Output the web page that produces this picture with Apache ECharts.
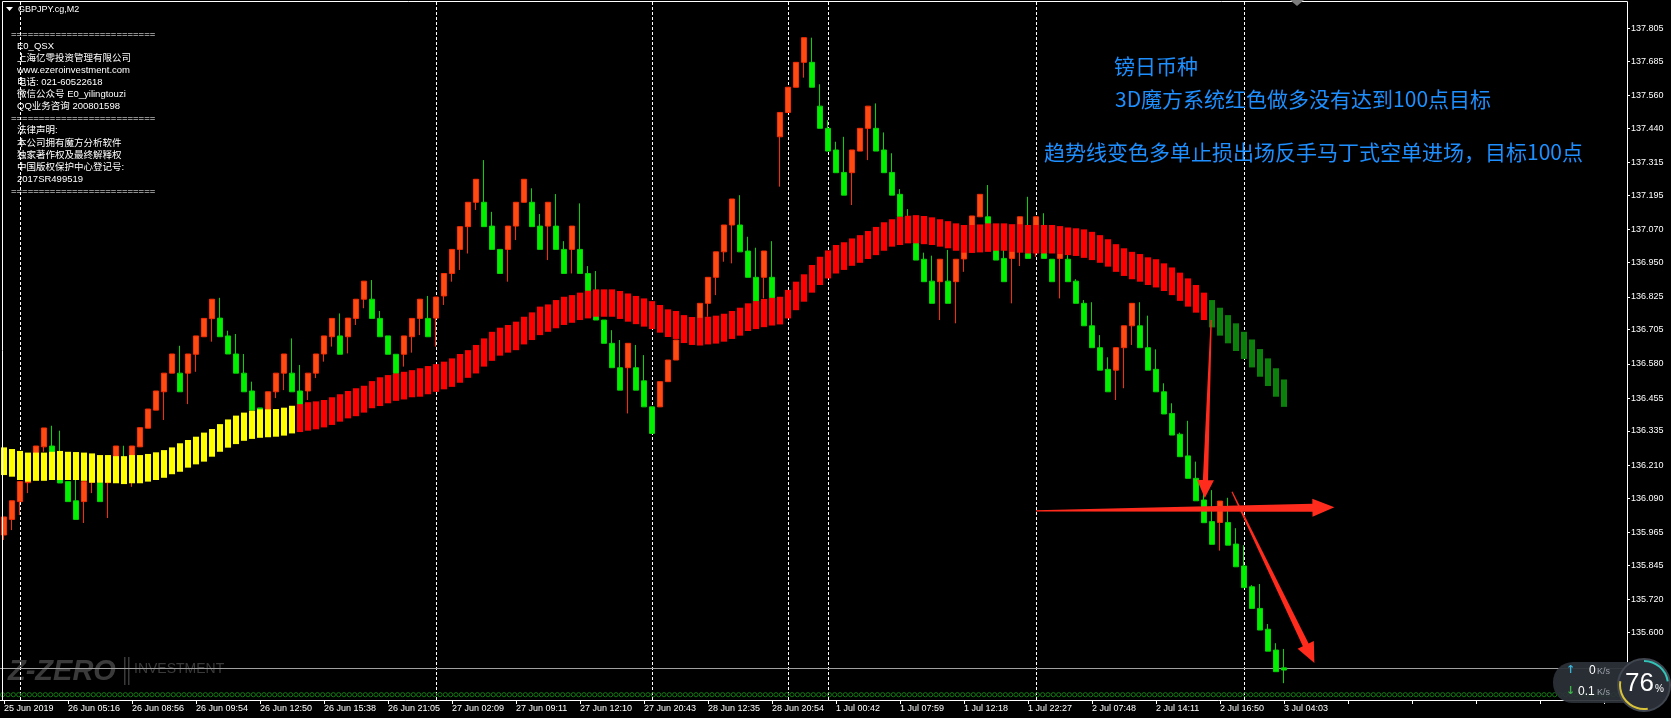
<!DOCTYPE html>
<html><head><meta charset="utf-8">
<script src="https://cdn.jsdelivr.net/npm/echarts@6/dist/echarts.min.js"></script>
<style>html,body{margin:0;padding:0;background:#000;overflow:hidden}#c{width:1671px;height:718px}</style>
</head><body><div id="c"></div>
<script>
// ---------------- DATA ----------------
const timeLabels = ['25 Jun 2019','26 Jun 05:16','26 Jun 08:56','26 Jun 09:54','26 Jun 12:50','26 Jun 15:38','26 Jun 21:05','27 Jun 02:09','27 Jun 09:11','27 Jun 12:10','27 Jun 20:43','28 Jun 12:35','28 Jun 20:54','1 Jul 00:42','1 Jul 07:59','1 Jul 12:18','1 Jul 22:27','2 Jul 07:48','2 Jul 14:11','2 Jul 16:50','3 Jul 04:03'];
const priceTicks = ['137.805','137.685','137.560','137.440','137.315','137.195','137.070','136.950','136.825','136.705','136.580','136.455','136.335','136.210','136.090','135.965','135.845','135.720','135.600'];

const opens = [135.955,136.012,136.077,136.146,136.214,136.277,136.280,136.211,136.150,136.080,136.077,136.148,136.146,136.146,136.218,136.218,136.218,136.277,136.345,136.411,
136.478,136.546,136.546,136.546,136.615,136.679,136.745,136.747,136.682,136.616,136.546,136.481,136.419,136.411,136.478,136.546,136.546,136.481,136.481,136.546,
136.616,136.679,136.682,136.679,136.746,136.816,136.816,136.746,136.682,136.615,136.615,136.679,136.746,136.746,136.747,136.828,136.910,136.998,137.081,137.170,
137.170,137.083,136.998,136.998,137.083,137.170,137.170,137.083,137.083,137.083,136.998,136.998,136.998,136.910,136.809,136.740,136.655,136.566,136.566,136.566,
136.518,136.423,136.423,136.515,136.594,136.667,136.733,136.733,136.801,136.896,136.989,137.087,137.087,136.992,136.896,136.896,136.896,137.409,137.498,137.590,
137.681,137.681,137.521,137.440,137.361,137.279,137.278,137.357,137.440,137.440,137.361,137.279,137.199,137.117,137.036,136.962,136.882,136.880,136.882,136.880,
136.963,137.043,137.117,137.117,137.047,136.965,136.965,137.034,137.034,137.034,137.034,136.962,136.965,136.962,136.882,136.801,136.719,136.639,136.560,136.557,
136.639,136.719,136.719,136.639,136.560,136.478,136.399,136.323,136.244,136.162,136.083,136.004,136.001,136.001,135.922,135.842,135.766,135.687,135.611,135.535,
135.470];
const closes = [136.021,136.080,136.150,136.218,136.280,136.346,136.211,136.145,136.077,136.012,136.150,136.218,136.077,136.218,136.280,136.149,136.280,136.347,136.415,136.481,
136.546,136.616,136.478,136.616,136.682,136.746,136.816,136.679,136.616,136.546,136.478,136.411,136.346,136.478,136.546,136.616,136.478,136.411,136.546,136.616,
136.682,136.746,136.615,136.747,136.816,136.882,136.746,136.679,136.615,136.545,136.682,136.746,136.816,136.679,136.824,136.910,136.998,137.081,137.170,137.254,
137.081,136.998,136.910,137.083,137.170,137.254,137.081,136.998,137.170,136.998,136.910,137.083,136.910,136.842,136.740,136.655,136.566,136.484,136.655,136.484,
136.423,136.326,136.515,136.594,136.667,136.733,136.664,136.801,136.896,136.989,137.087,137.182,136.989,136.896,136.809,136.992,136.819,137.498,137.590,137.681,
137.771,137.590,137.440,137.357,137.278,137.196,137.361,137.440,137.521,137.357,137.278,137.196,137.117,137.036,136.959,136.880,136.801,136.962,136.801,136.962,
137.043,137.120,137.199,137.049,136.959,136.880,137.034,137.117,136.965,137.117,136.965,136.880,137.034,136.880,136.801,136.719,136.639,136.557,136.478,136.639,
136.719,136.801,136.639,136.557,136.478,136.397,136.320,136.241,136.162,136.080,136.000,135.921,136.079,135.918,135.839,135.763,135.687,135.608,135.531,135.456,
135.462];
const lows = [135.937,135.973,136.028,136.108,136.214,136.259,136.211,136.145,136.077,136.012,135.999,136.108,136.077,136.017,136.218,136.149,136.131,136.277,136.345,136.411,
136.375,136.546,136.478,136.433,136.551,136.679,136.661,136.679,136.616,136.546,136.478,136.411,136.346,136.382,136.455,136.484,136.478,136.411,136.448,136.528,
136.588,136.643,136.615,136.618,136.722,136.783,136.746,136.679,136.615,136.545,136.570,136.621,136.685,136.679,136.643,136.795,136.880,136.923,136.983,137.142,
137.081,136.998,136.910,136.880,137.032,137.170,137.081,136.998,136.959,136.998,136.910,136.910,136.910,136.842,136.740,136.655,136.566,136.484,136.399,136.484,
136.423,136.326,136.423,136.515,136.594,136.667,136.664,136.733,136.752,136.831,136.953,136.947,136.989,136.896,136.809,136.819,136.819,137.227,137.498,137.590,
137.625,137.590,137.440,137.357,137.278,137.196,137.160,137.357,137.324,137.357,137.278,137.196,137.117,137.036,136.959,136.880,136.801,136.740,136.801,136.728,
136.916,137.043,137.117,137.049,136.959,136.880,136.801,136.937,136.965,136.971,136.965,136.880,136.819,136.880,136.801,136.719,136.639,136.557,136.478,136.448,
136.491,136.649,136.639,136.557,136.478,136.397,136.320,136.241,136.162,136.080,136.000,135.921,135.898,135.918,135.839,135.763,135.687,135.608,135.531,135.456,
135.414];
const highs = [136.021,136.080,136.150,136.218,136.280,136.346,136.354,136.336,136.150,136.156,136.150,136.218,136.146,136.218,136.280,136.281,136.280,136.347,136.415,136.481,
136.546,136.616,136.646,136.616,136.682,136.746,136.816,136.821,136.701,136.689,136.616,136.515,136.419,136.478,136.546,136.616,136.673,136.576,136.546,136.616,
136.682,136.746,136.764,136.747,136.816,136.882,136.886,136.773,136.682,136.615,136.682,136.746,136.816,136.828,136.824,136.910,136.998,137.081,137.170,137.254,
137.324,137.135,136.998,137.083,137.170,137.254,137.221,137.127,137.170,137.200,137.028,137.083,137.166,136.937,136.919,136.740,136.703,136.667,136.655,136.649,
136.612,136.423,136.515,136.594,136.667,136.733,136.733,136.801,136.896,136.989,137.087,137.182,137.196,137.044,137.004,136.992,137.028,137.498,137.590,137.681,
137.771,137.771,137.601,137.470,137.391,137.409,137.361,137.440,137.521,137.531,137.425,137.349,137.218,137.145,137.036,136.986,136.975,136.962,136.996,136.962,
137.043,137.120,137.199,137.233,137.047,137.014,137.034,137.117,137.190,137.117,137.130,136.962,137.034,136.977,136.889,136.813,136.805,136.685,136.604,136.639,
136.719,136.801,136.805,136.756,136.633,136.509,136.436,136.329,136.372,136.223,136.119,136.119,136.079,136.091,135.980,135.918,135.772,135.776,135.630,135.560,
135.539];

// trend ribbon (two moving-average lines drawn as bars)
const ribbonTop = [136.275,136.269,136.262,136.256,136.256,136.256,136.259,136.262,136.259,136.258,136.256,136.253,136.247,136.247,136.243,136.243,136.247,136.247,136.251,136.257,
136.265,136.275,136.290,136.302,136.314,136.329,136.342,136.360,136.377,136.391,136.402,136.409,136.414,136.414,136.415,136.420,136.427,136.433,136.440,136.443,
136.448,136.458,136.469,136.481,136.491,136.500,136.517,136.531,136.539,136.545,136.551,136.557,136.564,136.572,136.579,136.588,136.600,136.616,136.630,136.649,
136.673,136.697,136.712,136.722,136.734,136.752,136.768,136.789,136.797,136.813,136.825,136.831,136.840,136.847,136.852,136.852,136.852,136.846,136.837,136.828,
136.819,136.809,136.795,136.779,136.773,136.758,136.751,136.748,136.752,136.756,136.763,136.773,136.785,136.801,136.809,136.817,136.821,136.825,136.850,136.880,
136.907,136.941,136.971,136.994,137.014,137.024,137.038,137.050,137.065,137.080,137.097,137.108,137.117,137.121,137.123,137.120,137.115,137.108,137.101,137.093,
137.087,137.087,137.089,137.093,137.093,137.093,137.090,137.090,137.087,137.087,137.087,137.087,137.083,137.078,137.075,137.071,137.062,137.050,137.035,137.017,
137.002,136.989,136.981,136.969,136.962,136.947,136.932,136.913,136.892,136.868,136.840,136.813,136.785,136.758,136.728,136.697,136.669,136.634,136.600,136.564,
136.523];
const ribbonBottom = [136.174,136.168,136.156,136.150,136.153,136.153,136.156,136.156,136.156,136.156,136.153,136.146,136.146,136.146,136.144,136.141,136.144,136.144,136.150,136.156,
136.164,136.177,136.186,136.201,136.213,136.223,136.241,136.259,136.274,136.287,136.299,136.306,136.310,136.312,136.314,136.318,136.326,136.331,136.336,136.341,
136.348,136.357,136.369,136.381,136.389,136.402,136.418,136.426,136.436,136.445,136.450,136.458,136.460,136.469,136.478,136.487,136.496,136.511,136.529,136.545,
136.570,136.591,136.610,136.621,136.630,136.651,136.667,136.685,136.697,136.710,136.722,136.730,136.740,136.746,136.752,136.752,136.752,136.744,136.734,136.725,
136.716,136.707,136.694,136.678,136.671,136.656,136.649,136.647,136.651,136.654,136.661,136.671,136.683,136.700,136.707,136.714,136.720,136.724,136.746,136.776,
136.807,136.840,136.868,136.892,136.910,136.923,136.938,136.949,136.963,136.977,136.993,137.008,137.014,137.020,137.020,137.017,137.014,137.008,137.002,136.993,
136.986,136.985,136.987,136.989,136.993,136.993,136.989,136.986,136.983,136.983,136.983,136.983,136.981,136.977,136.974,136.967,136.959,136.949,136.935,136.916,
136.901,136.889,136.880,136.868,136.859,136.846,136.831,136.810,136.789,136.767,136.740,136.713,136.683,136.655,136.627,136.598,136.567,136.533,136.499,136.460,
136.423];
// number of ribbon bars in each state: flat (yellow), bullish (red), bearish (green)
const ribbonStateCounts = [37, 114, 10];

const separatorBars = [2, 54, 81, 98, 103, 129, 155];
const bidPrice = 135.473;
const bottomDotLevel = 135.372;

// hand-drawn arrows: [barIndex, price] of tail and tip
const arrowTails = [[150.9, 136.740], [129.0, 136.043], [153.5, 136.113]];
const arrowTips  = [[150.1, 136.090], [166.3, 136.056], [163.8, 135.488]];

const infoLines = ['', 'E0_QSX', '上海亿零投资管理有限公司', 'www.ezeroinvestment.com', '电话: 021-60522618', '微信公众号 E0_yilingtouzi', 'QQ业务咨询 200801598', '', '法律声明:', '本公司拥有魔方分析软件', '独家著作权及最终解释权', '中国版权保护中心登记号:', '2017SR499519', ''];
const noteLines = ['镑日币种', '3D魔方系统红色做多没有达到100点目标', '趋势线变色多单止损出场反手马丁式空单进场，目标100点'];

// ---------------- BUILD ----------------
const NCAT = 203;
const cats = Array.from({length: NCAT}, (_, i) => String(i));
const candleData = opens.map((o, i) => [o, closes[i], lows[i], highs[i]]);
const ribbonState = [];
ribbonStateCounts.forEach((n, s) => { for (let k = 0; k < n; k++) ribbonState.push(s); });
const ribbonData = ribbonTop.map((t, i) => [i, t, ribbonBottom[i], ribbonState[i]]);
const RIBBON_COLORS = ['#ffff00', '#ff0000', '#0b800b'];
const tickValues = priceTicks.map(Number);
const eqLine = '='.repeat(26);

function fx(api, x, y) {
  const b = Math.floor(x);
  const p = api.coord([b, y]);
  const w = api.size([1, 0])[0];
  return [p[0] + (x - b) * w, p[1]];
}

const FONT = '"Liberation Sans", "Noto Sans CJK SC", sans-serif';
const chart = echarts.init(document.getElementById('c'), null, {width: 1671, height: 718});
chart.setOption({
  backgroundColor: '#000',
  animation: false,
  textStyle: {fontFamily: FONT},
  title: [
    {text: 'GBPJPY.cg,M2', left: 18, top: 5, padding: 0, textStyle: {color: '#fff', fontSize: 9, fontWeight: 'normal', fontFamily: FONT}},
    {text: [eqLine, '', '', '', '', '', '', eqLine, '', '', '', '', '', eqLine].join('\n'), left: 11, top: 28, padding: 0,
     textStyle: {color: '#fff', fontSize: 9.5, lineHeight: 12.1, fontWeight: 'normal', fontFamily: FONT}},
    {text: infoLines.join('\n'), left: 17, top: 28, padding: 0,
     textStyle: {color: '#fff', fontSize: 9.5, lineHeight: 12.1, fontWeight: 'normal', fontFamily: FONT}},
    {text: noteLines[0], left: 1114, top: 55, padding: 0, textStyle: {color: '#1e8fff', fontSize: 21, lineHeight: 22, fontWeight: 'normal', fontFamily: '"Noto Sans CJK SC", sans-serif'}},
    {text: noteLines[1], left: 1115, top: 88, padding: 0, textStyle: {color: '#1e8fff', fontSize: 21, lineHeight: 22, fontWeight: 'normal', fontFamily: '"Noto Sans CJK SC", sans-serif'}},
    {text: noteLines[2], left: 1044, top: 141, padding: 0, textStyle: {color: '#1e8fff', fontSize: 21, lineHeight: 22, fontWeight: 'normal', fontFamily: '"Noto Sans CJK SC", sans-serif'}}
  ],
  grid: {left: 0, top: 2, width: 1624, height: 698, containLabel: false},
  xAxis: {
    type: 'category', data: cats, boundaryGap: true,
    axisLine: {show: true, lineStyle: {color: '#ffffff', width: 1}},
    axisTick: {show: true, interval: 7, alignWithLabel: true, length: 4, lineStyle: {color: '#ffffff'}},
    axisLabel: {interval: 7, align: 'left', color: '#ffffff', fontSize: 9, fontFamily: FONT, margin: 4,
      formatter: (v, idx) => (idx % 8 === 0 && timeLabels[idx / 8]) ? timeLabels[idx / 8] : ''},
    splitLine: {show: false}
  },
  yAxis: {
    type: 'value', position: 'right', offset: 3, min: 135.3526, max: 137.9013,
    axisLine: {show: true, lineStyle: {color: '#ffffff'}},
    axisTick: {show: true, length: 3, lineStyle: {color: '#ffffff'}, customValues: tickValues},
    axisLabel: {color: '#ffffff', fontSize: 9, fontFamily: FONT, margin: 4, customValues: tickValues,
      formatter: v => { const t = priceTicks.find(s => Math.abs(+s - v) < 1e-6); return t || ''; }},
    splitLine: {show: false}
  },
  series: [
    {
      type: 'custom', name: 'dots', z: 1, silent: true,
      data: cats.map((c, i) => [i, bottomDotLevel]),
      renderItem: (params, api) => {
        const i = api.value(0);
        const p = api.coord([i, api.value(1)]);
        const w = api.size([1, 0])[0];
        const period = w * 2 / 3;
        const x0 = p[0] - w / 2 - i * w;
        const children = [];
        for (let k = Math.ceil(i * w / period); k * period < (i + 1) * w; k++) {
          children.push({type: 'circle', shape: {cx: x0 + k * period + period / 2, cy: p[1], r: 2.1},
            style: {fill: 'none', stroke: '#127a12', lineWidth: 1}});
        }
        return {type: 'group', children};
      },
      markLine: {
        z: 1, zlevel: 0,
        silent: true, symbol: ['none', 'none'], animation: false, label: {show: false},
        data: separatorBars.map(i => ({xAxis: i, lineStyle: {color: '#ffffff', type: [3, 2], width: 1}}))
          .concat([{yAxis: bidPrice, lineStyle: {color: '#a0a0a0', type: 'solid', width: 1}}])
      }
    },
    {
      type: 'candlestick', name: 'GBPJPY', z: 2, barWidth: 5,
      data: candleData,
      itemStyle: {color: '#ff4a12', color0: '#00f000', borderColor: '#ff2a00', borderColor0: '#00d800', borderWidth: 1}
    },
    {
      type: 'custom', name: 'ribbon', z: 3, silent: true,
      data: ribbonData,
      encode: {x: 0, y: [1, 2]},
      renderItem: (params, api) => {
        const i = api.value(0);
        const a = api.coord([i, api.value(1)]);
        const b = api.coord([i, api.value(2)]);
        const w = 6;
        return {type: 'rect', shape: {x: Math.round(a[0] - w / 2), y: a[1], width: w, height: b[1] - a[1]},
          style: {fill: RIBBON_COLORS[api.value(3)]}};
      }
    },
    {
      type: 'custom', name: 'arrows', z: 6, silent: true,
      data: arrowTails.map((t, k) => [t[0], t[1], arrowTips[k][0], arrowTips[k][1], k]),
      encode: {x: [0, 2], y: [1, 3]},
      renderItem: (params, api) => {
        const T = fx(api, api.value(0), api.value(1));
        const P = fx(api, api.value(2), api.value(3));
        const k = api.value(4);
        const shape = [[0.6, 2.6, 18, 8.5], [0.6, 4, 22, 9], [0.6, 3.2, 20, 9]][k];
        const dx = P[0] - T[0], dy = P[1] - T[1], len = Math.hypot(dx, dy);
        const d = [dx / len, dy / len], n = [-d[1], d[0]];
        const B = [P[0] - d[0] * shape[2], P[1] - d[1] * shape[2]];
        const pt = (o, s) => [o[0] + n[0] * s, o[1] + n[1] * s];
        return {type: 'polygon', shape: {points: [pt(T, shape[0]), pt(B, shape[1]), pt(B, shape[3]), P, pt(B, -shape[3]), pt(B, -shape[1]), pt(T, -shape[0])]},
          style: {fill: '#ff2b1c'}};
      }
    }
  ],
  graphic: [
    {type: 'line', silent: true, z: 20, shape: {x1: 2.5, y1: 1.5, x2: 2.5, y2: 700}, style: {stroke: '#ffffff', lineWidth: 1}},
    {type: 'line', silent: true, z: 20, shape: {x1: 2.5, y1: 1.5, x2: 1627.5, y2: 1.5}, style: {stroke: '#ffffff', lineWidth: 1}},
    {type: 'polygon', silent: true, z: 20, shape: {points: [[6, 7], [13, 7], [9.5, 11]]}, style: {fill: '#ffffff'}},
    {type: 'polygon', silent: true, z: 20, shape: {points: [[1290, 0], [1304, 0], [1297, 6]]}, style: {fill: '#7c7c7c'}},
    // watermark
    {type: 'text', silent: true, z: 0, left: 8, top: 657, style: {text: 'Z-ZERO', fill: '#3a3a3a', font: 'italic bold 29px "Liberation Sans"'}},
    {type: 'rect', silent: true, z: 0, shape: {x: 124, y: 657, width: 1.5, height: 28}, style: {fill: '#3a3a3a'}},
    {type: 'rect', silent: true, z: 0, shape: {x: 128, y: 657, width: 1.5, height: 28}, style: {fill: '#3a3a3a'}},
    {type: 'text', silent: true, z: 0, left: 134, top: 662, style: {text: 'INVESTMENT', fill: '#3a3a3a', font: '14px "Liberation Sans"'}},
    // network widget overlay
    {type: 'rect', silent: true, z: 30, shape: {x: 1553, y: 662, width: 100, height: 41, r: 20}, style: {fill: 'rgba(44,49,57,0.93)'}},
    {type: 'text', silent: true, z: 31, left: 1566, top: 665, style: {text: '↑', fill: '#3ab4d6', font: 'bold 11px "DejaVu Sans"'}},
    {type: 'text', silent: true, z: 31, left: 1589, top: 665, style: {text: '0', fill: '#ffffff', font: '12px "Liberation Sans"'}},
    {type: 'text', silent: true, z: 31, left: 1597, top: 667, style: {text: 'K/s', fill: '#9aa0a8', font: '9px "Liberation Sans"'}},
    {type: 'text', silent: true, z: 31, left: 1566, top: 686, style: {text: '↓', fill: '#3cb44a', font: 'bold 11px "DejaVu Sans"'}},
    {type: 'text', silent: true, z: 31, left: 1578, top: 686, style: {text: '0.1', fill: '#ffffff', font: '12px "Liberation Sans"'}},
    {type: 'text', silent: true, z: 31, left: 1597, top: 688, style: {text: 'K/s', fill: '#9aa0a8', font: '9px "Liberation Sans"'}},
    {type: 'circle', silent: true, z: 32, shape: {cx: 1644, cy: 685, r: 26}, style: {fill: '#2a2f37', stroke: '#40464f', lineWidth: 2}},
    {type: 'arc', silent: true, z: 33, shape: {cx: 1644, cy: 685, r: 24, startAngle: -Math.PI / 2, endAngle: -0.15, clockwise: true}, style: {stroke: '#33c3b8', lineWidth: 2, fill: 'none'}},
    {type: 'arc', silent: true, z: 33, shape: {cx: 1644, cy: 685, r: 24, startAngle: Math.PI * 0.45, endAngle: Math.PI * 1.05, clockwise: true}, style: {stroke: '#d8c23a', lineWidth: 2, fill: 'none'}},
    {type: 'text', silent: true, z: 34, left: 1625, top: 671, style: {text: '76', fill: '#ffffff', font: '26px "Liberation Sans"'}},
    {type: 'text', silent: true, z: 34, left: 1655, top: 684, style: {text: '%', fill: '#ffffff', font: '10px "Liberation Sans"'}}
  ]
});
</script>
</body></html>
